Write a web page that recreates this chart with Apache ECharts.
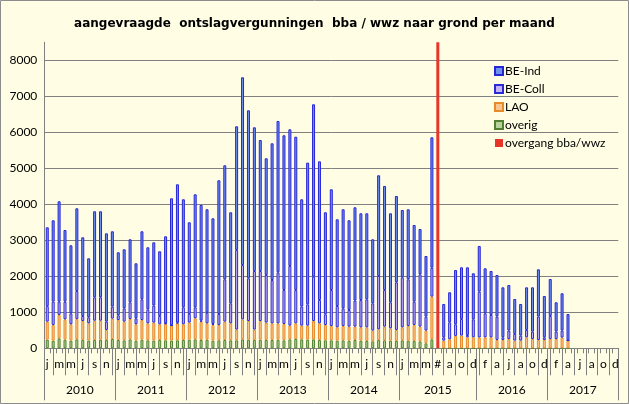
<!DOCTYPE html>
<html><head><meta charset="utf-8">
<script src="https://cdn.jsdelivr.net/npm/echarts@6/dist/echarts.min.js"></script>
<style>html,body{margin:0;padding:0;background:#fffde3}#c{width:629px;height:404px}</style>
</head><body><div id="c"></div>
<script>
// month tick labels (2015 has the extra "#" transition column)
const months = [
 'j','f','m','a','m','j','j','a','s','o','n','d',
 'j','f','m','a','m','j','j','a','s','o','n','d',
 'j','f','m','a','m','j','j','a','s','o','n','d',
 'j','f','m','a','m','j','j','a','s','o','n','d',
 'j','f','m','a','m','j','j','a','s','o','n','d',
 'j','f','m','a','m','j','#','j','a','s','o','n','d',
 'j','f','m','a','m','j','j','a','s','o','n','d',
 'j','f','m','a','m','j','j','a','s','o','n','d'
];
const years = ['2010','2011','2012','2013','2014','2015','2016','2017'];
const yearStart = [0,12,24,36,48,60,73,85];
const yearLen = [12,12,12,12,12,13,12,12];

const overig = [
 240,213,278,240,213,250,231,213,231,240,231,259,
 231,222,250,213,240,222,213,231,222,213,222,231,
 240,250,231,240,213,222,231,222,222,250,240,231,
 240,231,231,240,222,250,259,250,240,250,231,222,
 222,213,222,213,231,213,204,194,231,222,213,204,
 222,213,204,194,139,250,null,0,0,0,0,0,0,
 0,0,0,0,0,0,0,0,0,0,0,0,
 0,0,0,0,null,null,null,null,null,null,null,null
];
const lao = [
 500,435,648,565,454,564,527,481,536,527,278,565,
 555,518,564,454,546,472,500,436,454,416,472,436,
 473,583,509,454,435,426,509,472,298,555,518,289,
 518,482,463,454,454,379,435,379,389,508,463,426,
 398,370,398,389,371,370,379,297,297,380,343,305,
 361,407,444,408,352,1185,null,213,250,343,352,306,306,
 300,306,305,231,231,259,213,213,306,259,231,231,
 259,259,296,213,null,null,null,null,null,null,null,null
];
const beColl = [
 430,648,368,489,305,778,139,167,650,650,231,333,
 131,371,464,166,575,389,472,230,18,11,19,472,
 240,306,27,295,27,305,1177,556,2211,1509,1186,1627,
 1389,1323,1203,1417,944,1657,926,528,593,1232,647,296,
 1000,592,491,463,722,758,778,759,1481,1018,722,1324,
 1389,1297,646,1453,388,804,null,93,472,324,463,64,500,
 1273,666,621,649,75,232,185,139,203,204,649,75,
 639,204,195,7,null,null,null,null,null,null,null,null
];
const beInd = [
 2191,2260,2789,1992,1889,2297,2186,1639,2389,2389,2454,2093,
 1750,1639,1750,1528,1889,1723,1759,1797,2417,3527,3843,3000,
 2547,3139,3214,2872,2936,3714,3166,2528,3436,5214,4667,3992,
 3639,3242,3797,4203,4297,3797,4258,2982,3935,4788,3853,2834,
 2797,2408,2750,2491,2593,2409,2389,1778,2797,2889,2472,2398,
 1870,1944,2131,1259,1685,3622,null,925,834,1508,1435,1880,1277,
 1269,1250,1221,1156,1388,1268,972,879,1185,1231,1314,1147,
 1027,815,1037,733,null,null,null,null,null,null,null,null
];
const overgang = months.map((m, i) => m === '#' ? 8500 : null);

const FONT = 'Lato';
const yearLabelIndex = {};
years.forEach((y, k) => {
  const odd = yearLen[k] % 2 === 1;
  yearLabelIndex[yearStart[k] + (odd ? (yearLen[k] - 1) / 2 : yearLen[k] / 2 - 1)] = {y, odd};
});
const yearBoundaries = new Set(yearStart);

const chart = echarts.init(document.getElementById('c'), null, {renderer: 'canvas'});
const bar = (name, data, fill, border, bw) => ({
  name, type: 'bar', stack: 'tot', data, barWidth: 3,
  itemStyle: {color: fill, borderColor: border, borderWidth: bw},
  emphasis: {disabled: true}
});
const hiddenLine = {show: true, lineStyle: {color: 'rgba(0,0,0,0)'}};
chart.setOption({
  backgroundColor: '#fffde3',
  animation: false,
  title: {
    text: 'aangevraagde  ontslagvergunningen  bba / wwz naar grond per maand',
    left: 'center', top: 13,
    textStyle: {fontFamily: 'DejaVu Sans', fontWeight: 'bold', fontSize: 12, color: '#000'}
  },
  legend: {
    orient: 'vertical', left: 489, top: 60,
    itemWidth: 8, itemHeight: 8, itemGap: 6,
    icon: 'rect',
    data: ['BE-Ind', 'BE-Coll', 'LAO', 'overig', 'overgang bba/wwz'],
    textStyle: {fontFamily: FONT, fontSize: 12, color: '#000', lineHeight: 12, padding: [0, 0, 0, -3]}
  },
  grid: {left: 44.3, right: 10.7, top: 42.3, bottom: 55.7, containLabel: false},
  xAxis: [
    {
      type: 'category', data: months, boundaryGap: true, position: 'bottom', offset: 0,
      axisLine: {show: true, lineStyle: {color: '#808080'}},
      axisTick: {show: true, interval: 0, length: 5, lineStyle: {color: '#808080'}},
      axisLabel: {interval: 1, margin: 10, fontFamily: FONT, fontSize: 12, color: '#000'}
    },
    {
      type: 'category', data: months, boundaryGap: true, position: 'bottom', offset: 0,
      axisLine: hiddenLine,
      axisTick: {show: true, alignWithLabel: true, interval: (i) => i % 2 === 1, length: 27, lineStyle: {color: '#808080'}},
      axisLabel: {show: true, interval: 0, formatter: () => ''}
    },
    {
      type: 'category', data: months, boundaryGap: true, position: 'bottom', offset: 0,
      axisLine: hiddenLine,
      axisTick: {show: true, interval: (i) => yearBoundaries.has(i), length: 52, lineStyle: {color: '#808080'}},
      axisLabel: {
        interval: 0, margin: 36,
        formatter: (v, i) => yearLabelIndex[i] ? (yearLabelIndex[i].odd ? '{b|' + yearLabelIndex[i].y + '}' : '{a|' + yearLabelIndex[i].y + '}') : '',
        rich: {
          a: {fontFamily: FONT, fontSize: 12, color: '#000', padding: [0, 0, 0, 6]},
          b: {fontFamily: FONT, fontSize: 12, color: '#000'}
        }
      }
    }
  ],
  yAxis: {
    type: 'value', min: 0, max: 8500, interval: 1000,
    axisLine: {show: true, lineStyle: {color: '#808080'}},
    axisTick: {show: false},
    axisLabel: {showMaxLabel: false, margin: 7, fontFamily: FONT, fontSize: 12, color: '#000', formatter: (v) => String(v)},
    splitLine: {show: true, showMaxLine: false,
      lineStyle: {color: ['#808080','#808080','#808080','#808080','#808080','#808080','#808080','#808080','#808080','rgba(0,0,0,0)']}}
  },
  series: [
    bar('overig', overig, '#b5d29a', '#4f7f2f', 1),
    bar('LAO', lao, '#f8c690', '#e8892a', 1),
    bar('BE-Coll', beColl, '#c6b2f8', '#2a2ad6', 1),
    bar('BE-Ind', beInd, '#6f93ea', '#2626d9', 1),
    bar('overgang bba/wwz', overgang, '#e8352a', '#e8352a', 0)
  ],
  graphic: [{type: 'rect', silent: true, z: 100,
    shape: {x: 0.5, y: 0.5, width: 628, height: 403},
    style: {fill: 'none', stroke: '#8c8c8c', lineWidth: 1}}]
});
</script></body></html>
